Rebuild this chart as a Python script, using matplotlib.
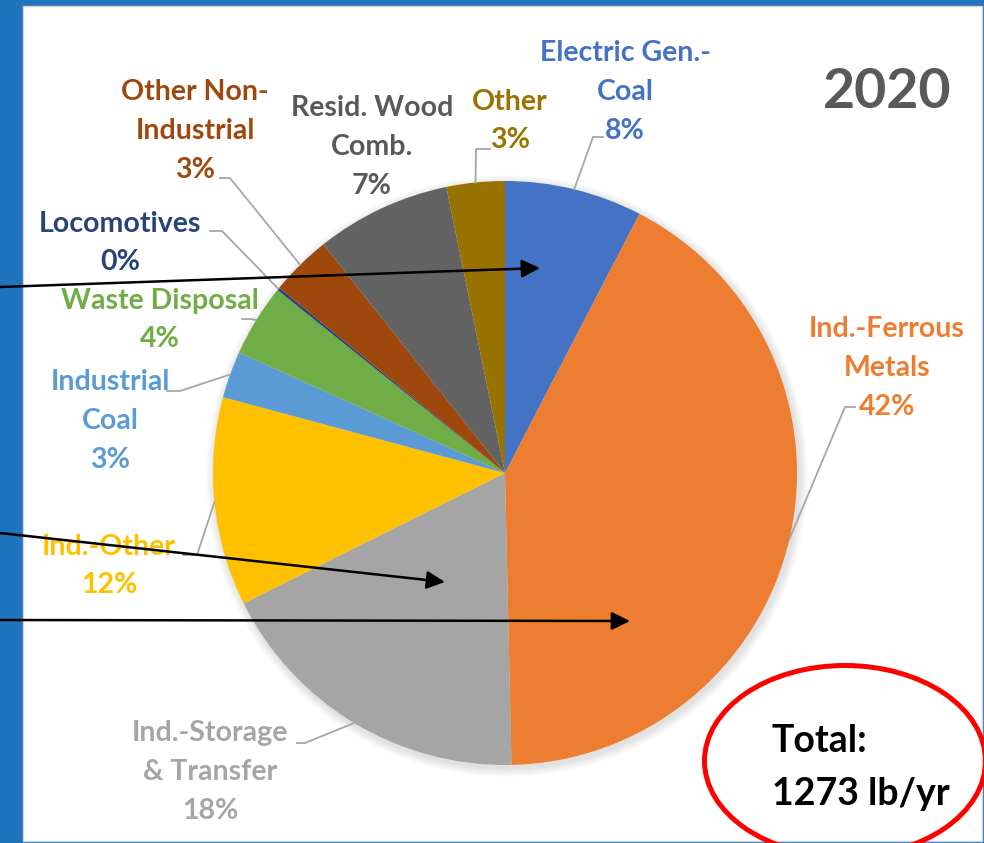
import numpy as np
import matplotlib.pyplot as plt
from matplotlib.patches import Rectangle, Circle, Ellipse

plt.rcParams['font.family'] = ['Lato', 'DejaVu Sans']

# canvas size in pixels (dpi 100)
W, H = 984, 843

year = "2020"
sources = ["Electric Gen.-\nCoal", "Ind.-Ferrous\nMetals", "Ind.-Storage\n& Transfer",
           "Ind.-Other", "Industrial\nCoal", "Waste Disposal", "Locomotives",
           "Other Non-\nIndustrial", "Resid. Wood\nComb.", "Other"]
emissions = [97, 535, 229, 147, 33, 51, 2, 43, 95, 41]  # lb/yr
colors = ["#4472C4", "#ED7D31", "#A5A5A5", "#FFC000", "#5B9BD5",
          "#70AD47", "#264478", "#9E480E", "#636363", "#997300"]
label_colors = ["#4472C4", "#ED7D31", "#A5A5A5", "#FFC000", "#5B9BD5",
                "#70AD47", "#264478", "#9E480E", "#595959", "#997300"]

total = sum(emissions)


def px(x, y):
    """screen pixel (y down) -> data coords (y up)"""
    return x, H - y


# label block centres and leader elbows, in screen pixels
label_pos = [(625, 92), (887, 368), (210, 772), (109, 566), (110, 421),
             (160, 320), (120, 243), (195, 131), (372, 147), (510, 121)]
leaders = [[(593, 137), (603, 137)], [(845, 407), (855, 407)],
           [(305, 743), (297, 743)], [(197, 555), (183, 555)],
           [(180, 391), (167, 391)], [(250, 319), (242, 319)],
           [(222, 231), (210, 231)], [(230, 178), (220, 178)],
           None, [(476, 149), (490, 149)]]
arrow_tips = [(540, 268), (445, 582), (630, 621)]
arrow_tails = [(0, 287), (0, 533), (0, 620)]

fig = plt.figure(figsize=(W / 100, H / 100), dpi=100)
fig.patch.set_facecolor("#1F74BD")
ax = fig.add_axes([0, 0, 1, 1])

# white slide panel
ax.add_patch(Rectangle(px(23, 841), 959, 835, facecolor="white",
                       edgecolor="#D4D4D4", lw=1.0, zorder=0))

cx, cy = px(505, 473)
R = 292

# soft drop shadow behind the pie
for i in range(10):
    ax.add_patch(Circle((cx + 2, cy - 3), R + 9 - i * 0.9, facecolor="black",
                        edgecolor="none", alpha=0.012, zorder=1))

wedges, _ = ax.pie(emissions, colors=colors, startangle=90, counterclock=False,
                   center=(cx, cy), radius=R,
                   wedgeprops=dict(linewidth=0, zorder=2))

for w, name, lc, pos, lead in zip(wedges, sources, label_colors, label_pos, leaders):
    pct = round(100 * (w.theta2 - w.theta1) / 360)
    x, y = px(*pos)
    ax.text(x, y, f"{name}\n{pct}%", ha="center", va="center", multialignment="center",
            color=lc, fontsize=20.5, fontweight="bold", linespacing=1.6, zorder=4)
    if lead is None:
        continue
    mid = np.deg2rad((w.theta1 + w.theta2) / 2)
    xs = [cx + R * np.cos(mid)] + [p[0] for p in lead]
    ys = [cy + R * np.sin(mid)] + [H - p[1] for p in lead]
    ax.plot(xs, ys, color="#A6A6A6", lw=1.3, zorder=3)

ax.text(*px(887, 92), year, ha="center", va="center", fontsize=40,
        fontweight="bold", color="#595959", zorder=4)

# call-out arrows from the left margin
for tail, tip in zip(arrow_tails, arrow_tips):
    ax.annotate("", xy=px(*tip), xytext=px(*tail), annotation_clip=False,
                arrowprops=dict(arrowstyle="-|>,head_length=0.55,head_width=0.27",
                                color="black", lw=1.8, mutation_scale=20,
                                shrinkA=0, shrinkB=0), zorder=5)

ax.text(*px(772, 752), "Total:", ha="left", va="baseline", fontsize=27,
        fontweight="bold", color="black", zorder=4)
ax.text(*px(772, 805), f"{total} lb/yr", ha="left", va="baseline", fontsize=27,
        fontweight="bold", color="black", zorder=4)
ax.add_patch(Ellipse(px(845, 761), 281, 191, fill=False, edgecolor="#FF0000",
                     lw=3.6, zorder=6))

ax.set_xlim(0, W)
ax.set_ylim(0, H)
ax.set_aspect("auto")
ax.axis("off")

fig.savefig("out.png", dpi=100, facecolor=fig.get_facecolor())
